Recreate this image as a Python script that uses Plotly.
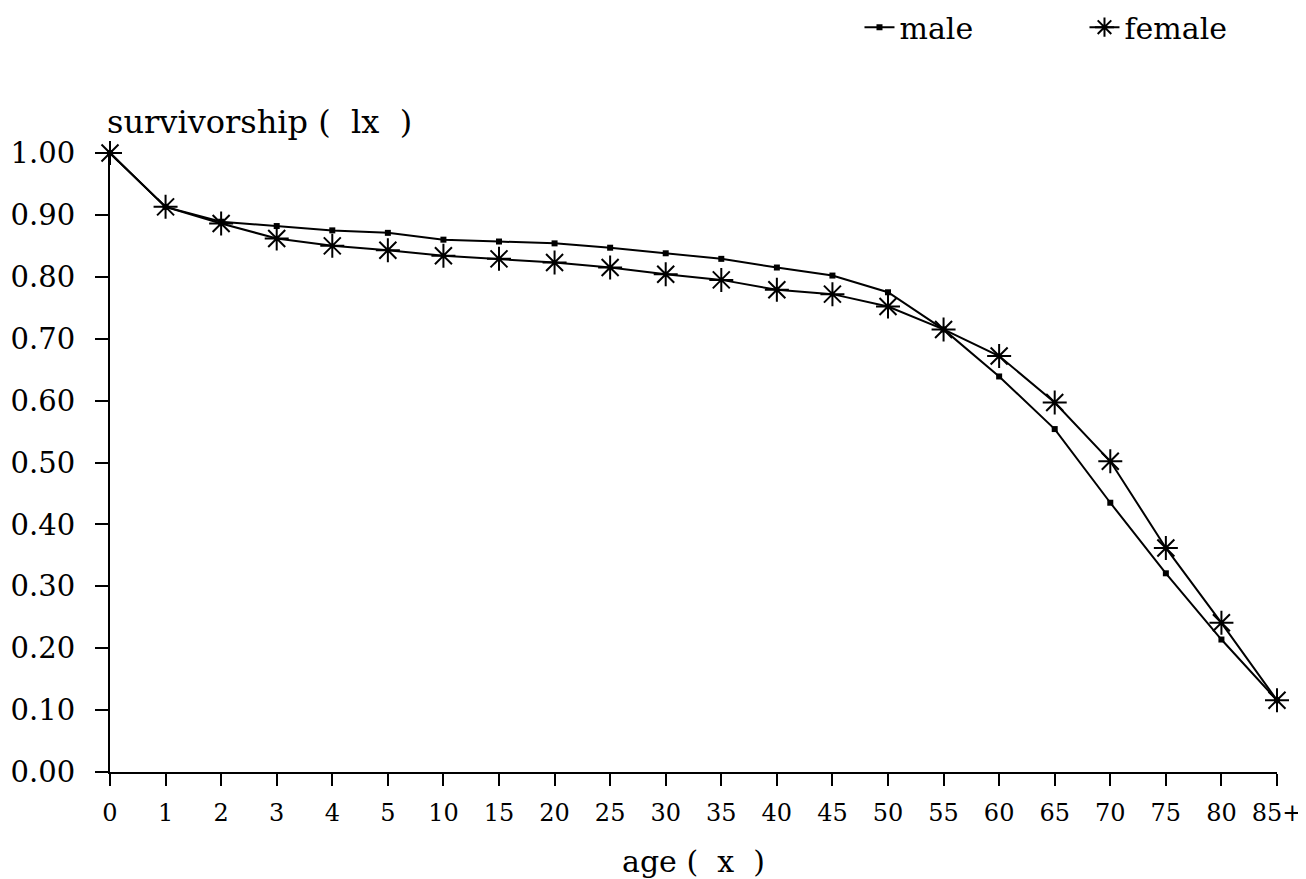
import plotly.graph_objects as go

ages = ["0", "1", "2", "3", "4", "5", "10", "15", "20", "25", "30", "35",
        "40", "45", "50", "55", "60", "65", "70", "75", "80", "85+"]
male = [1.000, 0.913, 0.889, 0.882, 0.875, 0.871, 0.860, 0.857, 0.854, 0.847,
        0.838, 0.829, 0.815, 0.802, 0.775, 0.715, 0.639, 0.554, 0.435, 0.321,
        0.214, 0.116]
female = [1.000, 0.913, 0.886, 0.862, 0.850, 0.843, 0.834, 0.829, 0.823, 0.815,
          0.804, 0.795, 0.779, 0.772, 0.752, 0.715, 0.672, 0.597, 0.502, 0.362,
          0.241, 0.116]
y_ticks = [0.0, 0.1, 0.2, 0.3, 0.4, 0.5, 0.6, 0.7, 0.8, 0.9, 1.0]

FONT = "DejaVu Serif"

fig = go.Figure()
fig.add_trace(go.Scatter(
    x=ages, y=male, name="male", mode="lines+markers",
    line=dict(color="black", width=2),
    marker=dict(symbol="square", size=6, color="black"),
    cliponaxis=False,
))
fig.add_trace(go.Scatter(
    x=ages, y=female, name="female", mode="lines+markers",
    line=dict(color="black", width=2),
    marker=dict(symbol="asterisk", size=20, color="black",
                line=dict(color="black", width=2)),
    cliponaxis=False,
))

fig.update_layout(
    width=1298, height=871,
    margin=dict(l=102, r=29, t=145, b=107, autoexpand=False),
    paper_bgcolor="white", plot_bgcolor="white",
    font=dict(family=FONT, color="black", size=24),
    showlegend=True,
    legend=dict(orientation="h", xref="container", yref="container",
                x=0.656, xanchor="left", y=0.978, yanchor="middle",
                font=dict(family=FONT, size=30), bgcolor="rgba(0,0,0,0)",
                entrywidth=180, entrywidthmode="pixels"),
    xaxis=dict(type="category", range=[0, 21], showgrid=False, zeroline=False,
               showline=True, linecolor="black", linewidth=2,
               ticks="outside", ticklen=12, tickwidth=2, tickcolor="black",
               tickfont=dict(family=FONT, size=24), ticklabelstandoff=6),
    yaxis=dict(range=[0, 1], tickvals=y_ticks, tickformat=".2f",
               showgrid=False, zeroline=False,
               showline=True, linecolor="black", linewidth=2,
               ticks="outside", ticklen=13, tickwidth=2, tickcolor="black",
               tickfont=dict(family=FONT, size=29), ticklabelstandoff=14),
    annotations=[
        dict(text="survivorship\u00a0(\u00a0\u00a0lx\u00a0\u00a0)", xref="paper", yref="paper",
             x=0, y=1, xanchor="left", yanchor="bottom", yshift=10, xshift=-5,
             showarrow=False, font=dict(family=FONT, size=32)),
        dict(text="age\u00a0(\u00a0\u00a0x\u00a0\u00a0)", xref="paper", yref="paper", x=0.5, y=0,
             xanchor="center", yanchor="top", yshift=-70, showarrow=False,
             font=dict(family=FONT, size=30)),
    ],
)

fig.write_html("out.html")
